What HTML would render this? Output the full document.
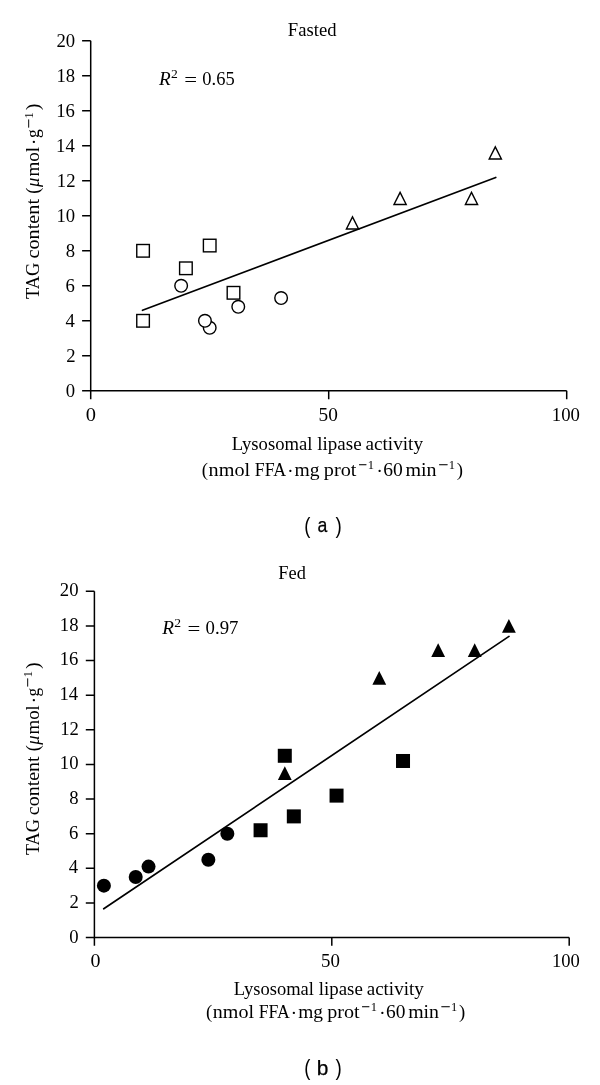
<!DOCTYPE html>
<html><head><meta charset="utf-8"><style>
html,body{margin:0;padding:0;background:#fff;}
svg{display:block;filter:grayscale(1);}
text{font-family:"Liberation Serif",serif;fill:#000;}
text.sans{font-family:"Liberation Sans",sans-serif;}
text.sb{stroke:#000;stroke-width:0.25px;}
text.mn{stroke:#000;stroke-width:0.35px;}
</style></head><body>
<svg width="600" height="1085" viewBox="0 0 600 1085">
<path d="M90.70 40.80V390.80H566.70" fill="none" stroke="#000" stroke-width="1.5"/>
<path d="M82.10 390.80H90.70 M82.10 355.80H90.70 M82.10 320.80H90.70 M82.10 285.80H90.70 M82.10 250.80H90.70 M82.10 215.80H90.70 M82.10 180.80H90.70 M82.10 145.80H90.70 M82.10 110.80H90.70 M82.10 75.80H90.70 M82.10 40.80H90.70 M90.70 390.80V399.20 M328.70 390.80V399.20 M566.70 390.80V399.20" fill="none" stroke="#000" stroke-width="1.5"/>
<line x1="142.5" y1="310.25" x2="495.75" y2="177.5" stroke="#000" stroke-width="1.7" stroke-linecap="round"/>
<rect x="136.76" y="244.50" width="12.60" height="12.60" fill="#fff" stroke="#000" stroke-width="1.4"/>
<rect x="203.40" y="239.25" width="12.60" height="12.60" fill="#fff" stroke="#000" stroke-width="1.4"/>
<rect x="179.60" y="262.00" width="12.60" height="12.60" fill="#fff" stroke="#000" stroke-width="1.4"/>
<rect x="227.20" y="286.50" width="12.60" height="12.60" fill="#fff" stroke="#000" stroke-width="1.4"/>
<rect x="136.76" y="314.50" width="12.60" height="12.60" fill="#fff" stroke="#000" stroke-width="1.4"/>
<circle cx="181.14" cy="285.80" r="6.30" fill="#fff" stroke="#000" stroke-width="1.4"/>
<circle cx="238.26" cy="306.80" r="6.30" fill="#fff" stroke="#000" stroke-width="1.4"/>
<circle cx="209.70" cy="327.80" r="6.30" fill="#fff" stroke="#000" stroke-width="1.4"/>
<circle cx="204.94" cy="320.80" r="6.30" fill="#fff" stroke="#000" stroke-width="1.4"/>
<circle cx="281.10" cy="298.05" r="6.30" fill="#fff" stroke="#000" stroke-width="1.4"/>
<path d="M352.50 216.90L358.60 229.00H346.40Z" fill="#fff" stroke="#000" stroke-width="1.4"/>
<path d="M400.10 192.40L406.20 204.50H394.00Z" fill="#fff" stroke="#000" stroke-width="1.4"/>
<path d="M471.50 192.40L477.60 204.50H465.40Z" fill="#fff" stroke="#000" stroke-width="1.4"/>
<path d="M495.30 146.90L501.40 159.00H489.20Z" fill="#fff" stroke="#000" stroke-width="1.4"/>
<path d="M94.40 591.30V937.60H569.20" fill="none" stroke="#000" stroke-width="1.5"/>
<path d="M85.80 937.60H94.40 M85.80 902.97H94.40 M85.80 868.34H94.40 M85.80 833.71H94.40 M85.80 799.08H94.40 M85.80 764.45H94.40 M85.80 729.82H94.40 M85.80 695.19H94.40 M85.80 660.56H94.40 M85.80 625.93H94.40 M85.80 591.30H94.40 M94.40 937.60V945.80 M331.80 937.60V945.80 M569.20 937.60V945.80" fill="none" stroke="#000" stroke-width="1.5"/>
<line x1="103.75" y1="908.75" x2="509" y2="636.4" stroke="#000" stroke-width="1.7" stroke-linecap="round"/>
<circle cx="103.90" cy="885.65" r="7.00" fill="#000"/>
<circle cx="135.71" cy="877.00" r="7.00" fill="#000"/>
<circle cx="148.53" cy="866.61" r="7.00" fill="#000"/>
<circle cx="208.35" cy="859.68" r="7.00" fill="#000"/>
<circle cx="227.34" cy="833.71" r="7.00" fill="#000"/>
<rect x="253.58" y="823.25" width="14.0" height="14.0" fill="#000"/>
<rect x="277.79" y="748.79" width="14.0" height="14.0" fill="#000"/>
<rect x="286.82" y="809.39" width="14.0" height="14.0" fill="#000"/>
<rect x="329.55" y="788.62" width="14.0" height="14.0" fill="#000"/>
<rect x="396.02" y="753.99" width="14.0" height="14.0" fill="#000"/>
<path d="M284.79 766.21L291.69 780.01H277.89Z" fill="#000"/>
<path d="M379.28 670.98L386.18 684.77H372.38Z" fill="#000"/>
<path d="M438.16 643.27L445.06 657.07H431.26Z" fill="#000"/>
<path d="M474.71 643.27L481.61 657.07H467.81Z" fill="#000"/>
<path d="M508.90 619.03L515.80 632.83H502.00Z" fill="#000"/>
<text x="287.84" y="36.10" font-size="18.7" textLength="48.66" lengthAdjust="spacingAndGlyphs">Fasted</text>
<text x="278.35" y="578.70" font-size="18.7" textLength="27.53" lengthAdjust="spacingAndGlyphs">Fed</text>
<text x="159.10" y="84.65" font-size="18.7" font-style="italic" textLength="11.70" lengthAdjust="spacingAndGlyphs">R</text>
<text x="171.11" y="78.20" font-size="11.5" textLength="6.81" lengthAdjust="spacingAndGlyphs">2</text>
<text x="184.26" y="85.75" font-size="18.7" textLength="12.84" lengthAdjust="spacingAndGlyphs">=</text>
<text x="202.36" y="84.65" font-size="18.7" textLength="32.38" lengthAdjust="spacingAndGlyphs">0.65</text>
<text x="162.35" y="633.75" font-size="18.7" font-style="italic" textLength="11.70" lengthAdjust="spacingAndGlyphs">R</text>
<text x="174.36" y="627.30" font-size="11.5" textLength="6.81" lengthAdjust="spacingAndGlyphs">2</text>
<text x="187.51" y="634.85" font-size="18.7" textLength="12.84" lengthAdjust="spacingAndGlyphs">=</text>
<text x="205.60" y="633.75" font-size="18.7" textLength="32.83" lengthAdjust="spacingAndGlyphs">0.97</text>
<text x="231.64" y="449.70" font-size="18.7" textLength="80.80" lengthAdjust="spacingAndGlyphs">Lysosomal</text>
<text x="317.32" y="449.70" font-size="18.7" textLength="44.30" lengthAdjust="spacingAndGlyphs">lipase</text>
<text x="365.53" y="449.70" font-size="18.7" textLength="57.45" lengthAdjust="spacingAndGlyphs">activity</text>
<text x="201.67" y="475.80" font-size="18.7">(</text>
<text x="208.60" y="475.80" font-size="18.7" textLength="41.52" lengthAdjust="spacingAndGlyphs">nmol</text>
<text x="254.76" y="475.80" font-size="18.7" textLength="31.42" lengthAdjust="spacingAndGlyphs">FFA</text>
<text x="287.21" y="476.80" font-size="18.7">·</text>
<text x="294.61" y="475.80" font-size="18.7" textLength="25.04" lengthAdjust="spacingAndGlyphs">mg</text>
<text x="323.89" y="475.80" font-size="18.7" textLength="32.63" lengthAdjust="spacingAndGlyphs">prot</text>
<text x="358.26" y="469.20" font-size="12.5" class="mn" textLength="8.40" lengthAdjust="spacingAndGlyphs">−</text>
<text x="367.69" y="469.20" font-size="12.5">1</text>
<text x="376.41" y="476.80" font-size="18.7">·</text>
<text x="383.22" y="475.80" font-size="18.7" textLength="19.57" lengthAdjust="spacingAndGlyphs">60</text>
<text x="405.50" y="475.80" font-size="18.7" textLength="31.12" lengthAdjust="spacingAndGlyphs">min</text>
<text x="438.15" y="469.20" font-size="12.5" class="mn" textLength="9.60" lengthAdjust="spacingAndGlyphs">−</text>
<text x="448.69" y="469.20" font-size="12.5">1</text>
<text x="456.71" y="475.80" font-size="18.7">)</text>
<text x="233.74" y="995.30" font-size="18.7" textLength="80.23" lengthAdjust="spacingAndGlyphs">Lysosomal</text>
<text x="318.82" y="995.30" font-size="18.7" textLength="43.99" lengthAdjust="spacingAndGlyphs">lipase</text>
<text x="366.70" y="995.30" font-size="18.7" textLength="57.05" lengthAdjust="spacingAndGlyphs">activity</text>
<text x="205.95" y="1017.90" font-size="18.7">(</text>
<text x="212.85" y="1017.90" font-size="18.7" textLength="41.19" lengthAdjust="spacingAndGlyphs">nmol</text>
<text x="258.65" y="1017.90" font-size="18.7" textLength="31.17" lengthAdjust="spacingAndGlyphs">FFA</text>
<text x="290.81" y="1018.90" font-size="18.7">·</text>
<text x="298.17" y="1017.90" font-size="18.7" textLength="24.84" lengthAdjust="spacingAndGlyphs">mg</text>
<text x="327.23" y="1017.90" font-size="18.7" textLength="32.37" lengthAdjust="spacingAndGlyphs">prot</text>
<text x="361.31" y="1011.30" font-size="12.5" class="mn" textLength="8.33" lengthAdjust="spacingAndGlyphs">−</text>
<text x="370.64" y="1011.30" font-size="12.5">1</text>
<text x="379.30" y="1018.90" font-size="18.7">·</text>
<text x="386.07" y="1017.90" font-size="18.7" textLength="19.41" lengthAdjust="spacingAndGlyphs">60</text>
<text x="408.18" y="1017.90" font-size="18.7" textLength="30.87" lengthAdjust="spacingAndGlyphs">min</text>
<text x="440.57" y="1011.30" font-size="12.5" class="mn" textLength="9.52" lengthAdjust="spacingAndGlyphs">−</text>
<text x="450.99" y="1011.30" font-size="12.5">1</text>
<text x="458.95" y="1017.90" font-size="18.7">)</text>
<text transform="translate(39.00 299.07) rotate(-90)" font-size="18.7" textLength="36.42" lengthAdjust="spacingAndGlyphs">TAG</text>
<text transform="translate(39.00 258.56) rotate(-90)" font-size="18.7" textLength="59.63" lengthAdjust="spacingAndGlyphs">content</text>
<text transform="translate(39.00 193.68) rotate(-90)" font-size="18.7">(</text>
<text transform="translate(39.00 187.00) rotate(-90)" font-size="18.7" font-style="italic" textLength="9.40" lengthAdjust="spacingAndGlyphs">μ</text>
<text transform="translate(39.00 176.58) rotate(-90)" font-size="18.7" textLength="29.68" lengthAdjust="spacingAndGlyphs">mol</text>
<text transform="translate(40.00 144.99) rotate(-90)" font-size="18.7">·</text>
<text transform="translate(39.00 138.10) rotate(-90)" font-size="18.7" textLength="8.75" lengthAdjust="spacingAndGlyphs">g</text>
<text transform="translate(32.50 128.57) rotate(-90)" font-size="12.5" class="mn" textLength="9.30" lengthAdjust="spacingAndGlyphs">−</text>
<text transform="translate(32.50 118.41) rotate(-90)" font-size="12.5">1</text>
<text transform="translate(39.00 109.99) rotate(-90)" font-size="18.7">)</text>
<text transform="translate(38.80 855.06) rotate(-90)" font-size="18.7" textLength="35.87" lengthAdjust="spacingAndGlyphs">TAG</text>
<text transform="translate(38.80 815.16) rotate(-90)" font-size="18.7" textLength="58.74" lengthAdjust="spacingAndGlyphs">content</text>
<text transform="translate(38.80 751.30) rotate(-90)" font-size="18.7">(</text>
<text transform="translate(38.80 744.68) rotate(-90)" font-size="18.7" font-style="italic" textLength="9.26" lengthAdjust="spacingAndGlyphs">μ</text>
<text transform="translate(38.80 734.41) rotate(-90)" font-size="18.7" textLength="29.24" lengthAdjust="spacingAndGlyphs">mol</text>
<text transform="translate(39.80 703.34) rotate(-90)" font-size="18.7">·</text>
<text transform="translate(38.80 696.51) rotate(-90)" font-size="18.7" textLength="8.62" lengthAdjust="spacingAndGlyphs">g</text>
<text transform="translate(32.30 687.13) rotate(-90)" font-size="12.5" class="mn" textLength="9.16" lengthAdjust="spacingAndGlyphs">−</text>
<text transform="translate(32.30 677.17) rotate(-90)" font-size="12.5">1</text>
<text transform="translate(38.80 668.87) rotate(-90)" font-size="18.7">)</text>
<text x="85.88" y="420.50" font-size="18.7" textLength="10.24" lengthAdjust="spacingAndGlyphs">0</text>
<text x="318.64" y="420.50" font-size="18.7" textLength="19.33" lengthAdjust="spacingAndGlyphs">50</text>
<text x="551.81" y="420.50" font-size="18.7" textLength="28.14" lengthAdjust="spacingAndGlyphs">100</text>
<text x="90.50" y="967.00" font-size="18.7" textLength="10.00" lengthAdjust="spacingAndGlyphs">0</text>
<text x="321.07" y="967.00" font-size="18.7" textLength="18.89" lengthAdjust="spacingAndGlyphs">50</text>
<text x="551.92" y="967.00" font-size="18.7" textLength="27.92" lengthAdjust="spacingAndGlyphs">100</text>
<text x="65.80" y="397.10" font-size="18.7">0</text>
<text x="69.20" y="942.50" font-size="18.7">0</text>
<text x="66.17" y="362.10" font-size="18.7">2</text>
<text x="69.57" y="907.87" font-size="18.7">2</text>
<text x="65.42" y="327.10" font-size="18.7">4</text>
<text x="68.82" y="873.24" font-size="18.7">4</text>
<text x="65.61" y="292.10" font-size="18.7">6</text>
<text x="69.01" y="838.61" font-size="18.7">6</text>
<text x="65.80" y="257.10" font-size="18.7">8</text>
<text x="69.20" y="803.98" font-size="18.7">8</text>
<text x="56.45" y="222.10" font-size="18.7">10</text>
<text x="59.85" y="769.35" font-size="18.7">10</text>
<text x="56.82" y="187.10" font-size="18.7">12</text>
<text x="60.22" y="734.72" font-size="18.7">12</text>
<text x="56.07" y="152.10" font-size="18.7">14</text>
<text x="59.47" y="700.09" font-size="18.7">14</text>
<text x="56.26" y="117.10" font-size="18.7">16</text>
<text x="59.66" y="665.46" font-size="18.7">16</text>
<text x="56.45" y="82.10" font-size="18.7">18</text>
<text x="59.85" y="630.83" font-size="18.7">18</text>
<text x="56.45" y="47.10" font-size="18.7">20</text>
<text x="59.85" y="596.20" font-size="18.7">20</text>
<text x="304.19" y="533.30" font-size="21.5" class="sans" textLength="6.15" lengthAdjust="spacingAndGlyphs">(</text>
<text x="317.49" y="532.40" font-size="21" class="sans sb" textLength="9.84" lengthAdjust="spacingAndGlyphs">a</text>
<text x="335.41" y="533.30" font-size="21.5" class="sans" textLength="6.28" lengthAdjust="spacingAndGlyphs">)</text>
<text x="304.19" y="1075.20" font-size="21.5" class="sans" textLength="6.15" lengthAdjust="spacingAndGlyphs">(</text>
<text x="316.74" y="1074.70" font-size="21" class="sans sb" textLength="11.63" lengthAdjust="spacingAndGlyphs">b</text>
<text x="335.41" y="1075.20" font-size="21.5" class="sans" textLength="6.28" lengthAdjust="spacingAndGlyphs">)</text>
</svg>
</body></html>
